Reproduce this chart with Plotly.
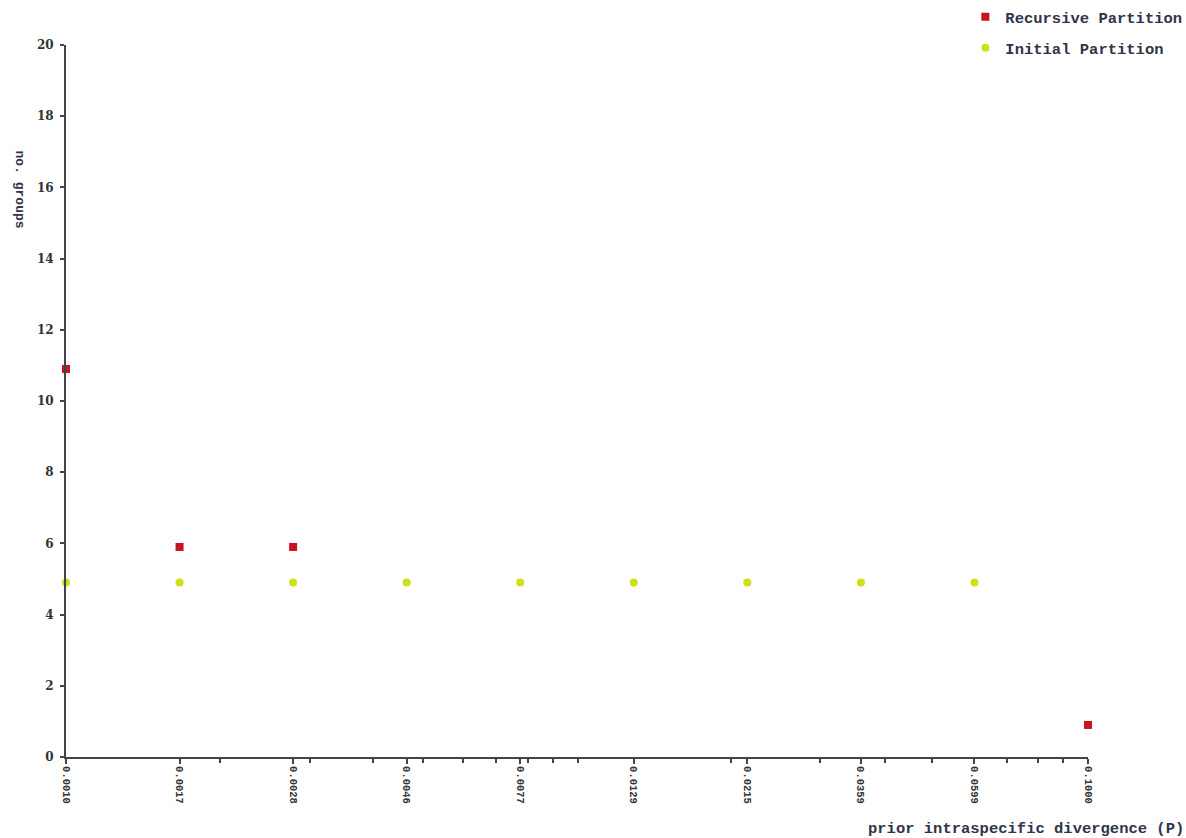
import plotly.graph_objects as go

# ---- data ----
x_labels = ["0.0010", "0.0017", "0.0028", "0.0046", "0.0077",
            "0.0129", "0.0215", "0.0359", "0.0599", "0.1000"]

recursive_idx = [0, 1, 2, 9]
recursive_groups = [10.9, 5.9, 5.9, 0.9]

initial_idx = [0, 1, 2, 3, 4, 5, 6, 7, 8]
initial_groups = [4.9, 4.9, 4.9, 4.9, 4.9, 4.9, 4.9, 4.9, 4.9]

y_ticks = [0, 2, 4, 6, 8, 10, 12, 14, 16, 18, 20]

# irregular minor tick marks seen on the x axis (in category-index units)
minor_ticks = [1.36, 2.145, 2.70, 3.14, 3.50, 3.79, 4.07, 4.29, 4.51,
               5.86, 6.64, 7.21, 7.63, 8.29, 8.56, 8.78]

# ---- style ----
AXIS_COL = "#444448"
RED = "#c8141e"
YELLOW = "#cfe01a"
MONO = "Liberation Mono"

fig = go.Figure()
fig.add_trace(go.Scatter(
    x=recursive_idx, y=recursive_groups,
    mode="markers", name="Recursive Partition", legendgroup="a",
    marker=dict(symbol="square", size=8, color=RED),
    cliponaxis=False,
))
fig.add_trace(go.Scatter(
    x=initial_idx, y=initial_groups,
    mode="markers", name="Initial Partition", legendgroup="b",
    marker=dict(symbol="circle", size=8, color=YELLOW),
    cliponaxis=False,
))

fig.update_layout(
    width=1186, height=838,
    paper_bgcolor="white", plot_bgcolor="white",
    margin=dict(l=66, r=98, t=45, b=81, autoexpand=False),
    showlegend=True,
    legend=dict(
        xref="paper", yref="paper",
        x=0.880, y=1.063, xanchor="left", yanchor="top",
        font=dict(family=MONO, size=15.5, color="#33334a", weight="bold"),
        tracegroupgap=8, traceorder="grouped",
        itemwidth=30, bgcolor="rgba(0,0,0,0)",
    ),
    xaxis=dict(
        range=[0, 9], tickmode="array",
        tickvals=list(range(len(x_labels))), ticktext=x_labels,
        tickangle=90, ticks="outside", ticklen=5, tickwidth=2, tickcolor=AXIS_COL,
        showline=True, linecolor=AXIS_COL, linewidth=2,
        showgrid=False, zeroline=False,
        tickfont=dict(family=MONO, size=10.5, color="#333", weight="bold"),
        minor=dict(tickmode="array", tickvals=minor_ticks, ticks="outside",
                   ticklen=4, tickwidth=1.5, tickcolor=AXIS_COL, showgrid=False),
    ),
    yaxis=dict(
        range=[0, 20], tickmode="array", tickvals=y_ticks,
        ticks="outside", ticklen=4, tickwidth=2, tickcolor=AXIS_COL,
        showline=True, linecolor=AXIS_COL, linewidth=2,
        showgrid=False, zeroline=False,
        tickfont=dict(family="DejaVu Serif", size=12, color="#333", weight="bold"),
        ticklabelstandoff=4,
    ),
    annotations=[
        dict(text="no. groups", textangle=90, showarrow=False,
             xref="paper", yref="paper", x=-0.046, y=0.797,
             xanchor="center", yanchor="middle",
             font=dict(family=MONO, size=13, color="#33334a", weight="bold")),
        dict(text="prior intraspecific divergence (P)", showarrow=False,
             xref="paper", yref="paper", x=1.0959, y=-0.101,
             xanchor="right", yanchor="middle",
             font=dict(family=MONO, size=15.5, color="#33334a", weight="bold")),
    ],
)

# remove the default page margin/scrollbars so the figure sits at the window origin
fig.write_html(
    "out.html",
    config={"displayModeBar": False},
    post_script="document.body.style.margin='0';document.body.style.overflow='hidden';",
)
